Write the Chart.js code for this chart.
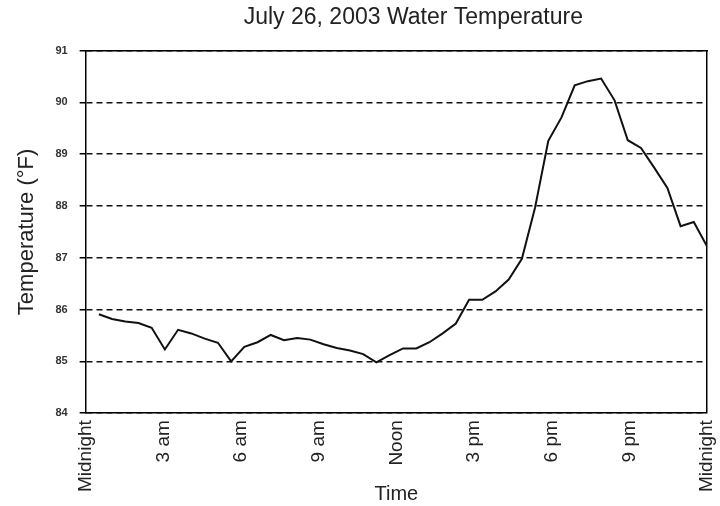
<!DOCTYPE html>
<html>
<head>
<meta charset="utf-8">
<title>July 26, 2003 Water Temperature</title>
<script src="https://cdn.jsdelivr.net/npm/chart.js@4/dist/chart.umd.min.js"></script>
<style>
  html, body { margin: 0; padding: 0; background: #ffffff; }
  #wrap { width: 720px; height: 506px; }
</style>
</head>
<body>
<div id="wrap"><canvas id="tempChart"></canvas></div>
<script>
// readings, hours after midnight (as placed on the picture's time axis)
var hours = [0.51, 1.02, 1.53, 2.04, 2.55, 3.06, 3.57, 4.08, 4.60, 5.11,
             5.62, 6.13, 6.64, 7.15, 7.66, 8.17, 8.68, 9.19, 9.70, 10.21,
             10.72, 11.23, 11.74, 12.26, 12.77, 13.28, 13.79, 14.30, 14.81, 15.32,
             15.83, 16.34, 16.85, 17.36, 17.87, 18.38, 18.89, 19.40, 19.91, 20.43,
             20.94, 21.45, 21.96, 22.47, 22.98, 23.49, 24.00];
var temps = [85.91, 85.82, 85.77, 85.74, 85.65, 85.23, 85.61, 85.54, 85.44, 85.36,
             85.00, 85.28, 85.37, 85.51, 85.41, 85.45, 85.42, 85.33, 85.26, 85.21,
             85.14, 84.98, 85.12, 85.25, 85.25, 85.37, 85.54, 85.73, 86.19, 86.19,
             86.35, 86.58, 86.98, 87.97, 89.26, 89.71, 90.33, 90.41, 90.46, 90.04,
             89.27, 89.12, 88.74, 88.35, 87.61, 87.69, 87.22];
var tickLabels = ["Midnight", "3 am", "6 am", "9 am", "Noon", "3 pm", "6 pm", "9 pm", "Midnight"];

Chart.defaults.font.family = "'Liberation Sans', Arial, sans-serif";
Chart.defaults.color = "#222";

var points = hours.map(function (h, i) {
    return { x: h, y: temps[i] };
});

// the original title sits a little right of the plot's centre
var titleShift = {
    id: "titleShift",
    afterLayout: function (chart) {
        if (chart.titleBlock) {
            chart.titleBlock.left += 34;
        }
    },
};

var ctx = document.getElementById("tempChart").getContext("2d");

var tempChart = new Chart(ctx, {
    type: "line",
    data: {
        datasets: [
            {
                label: "Water Temperature",
                data: points,
                borderColor: "#111",
                borderWidth: 2,
                pointRadius: 0,
                tension: 0,
            },
        ],
    },
    plugins: [titleShift],
    options: {
        responsive: true,
        maintainAspectRatio: false,
        animation: false,
        layout: {
            padding: { left: 14, right: 0, top: 0, bottom: 0 },
        },
        plugins: {
            legend: { display: false },
            tooltip: { enabled: false },
            title: {
                display: true,
                text: "July 26, 2003 Water Temperature",
                fullSize: false,
                color: "#222",
                font: { size: 23, weight: "normal" },
                padding: { top: 4, bottom: 19 },
            },
        },
        scales: {
            x: {
                type: "linear",
                min: 0,
                max: 24,
                // the last rotated label may hang over the right edge a bit
                afterFit: function (scale) {
                    scale.paddingRight = 13;
                },
                ticks: {
                    stepSize: 3,
                    autoSkip: false,
                    maxRotation: 90,
                    minRotation: 90,
                    padding: 7,
                    color: "#222",
                    font: { size: 19 },
                    callback: function (value) {
                        return tickLabels[value / 3];
                    },
                },
                // only the line at the right end is drawn, as the frame's right side
                grid: {
                    drawTicks: false,
                    lineWidth: 1.5,
                    color: function (c) {
                        return c.tick && c.tick.value === 24 ? "#000" : "rgba(0,0,0,0)";
                    },
                },
                border: { display: true, color: "#000", width: 1.5 },
                title: {
                    display: true,
                    text: "Time",
                    color: "#222",
                    font: { size: 20 },
                    padding: { top: -17, bottom: 0 },
                },
            },
            y: {
                min: 84,
                max: 91,
                ticks: {
                    stepSize: 1,
                    color: "#333",
                    font: { size: 11, weight: "bold" },
                    padding: 12,
                },
                grid: {
                    color: "#111",
                    lineWidth: 1.5,
                    tickLength: 6,
                    tickColor: "#000",
                    tickWidth: 1.5,
                },
                border: { display: true, color: "#000", width: 1.5, dash: [6, 4] },
                title: {
                    display: true,
                    text: "Temperature (°F)",
                    color: "#222",
                    font: { size: 22 },
                    padding: { top: 0, bottom: 3 },
                },
            },
            top: {
                type: "linear",
                position: "top",
                ticks: { display: false },
                grid: { display: false, drawTicks: false },
                border: { display: true, color: "#000", width: 1.5 },
            },
        },
    },
});
</script>
</body>
</html>
